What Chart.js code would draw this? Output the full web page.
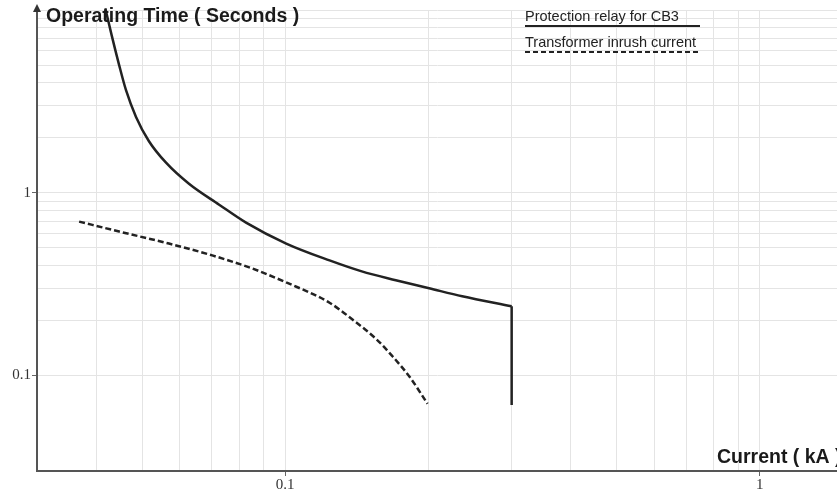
<!DOCTYPE html>
<html lang="en">
<head>
    <meta charset="UTF-8">
    <title>Relay coordination</title>
    <script src="https://cdn.jsdelivr.net/npm/chart.js"></script>
    <style>
        body { margin: 0; background: #fff; }
        .wrap { width: 837px; height: 492px; position: relative; }
    </style>
</head>
<body>
    <div class="wrap">
        <canvas id="tccChart"></canvas>
    </div>
    <script>
        // Protection relay for CB3 (kA, s)
        var relayCurrent = [0.0418, 0.0431, 0.0447, 0.0462, 0.0485, 0.0516, 0.0561, 0.0627, 0.0726, 0.0827, 0.1005, 0.124, 0.145, 0.171, 0.201, 0.236, 0.300];
        var relayTime = [10.2, 7.26, 4.98, 3.64, 2.6, 1.92, 1.46, 1.12, 0.86, 0.686, 0.527, 0.426, 0.371, 0.332, 0.300, 0.271, 0.239];
        // instantaneous step of the relay
        var instantCurrent = [0.3, 0.3];
        var instantTime = [0.239, 0.069];
        // Transformer inrush current
        var inrushCurrent = [0.0368, 0.0447, 0.0569, 0.0702, 0.0852, 0.1005, 0.124, 0.1384, 0.1556, 0.168, 0.183, 0.1995];
        var inrushTime = [0.695, 0.613, 0.527, 0.454, 0.385, 0.323, 0.250, 0.203, 0.158, 0.128, 0.098, 0.070];

        // grid lines and labelled ticks
        var xGrid = [0.03, 0.04, 0.05, 0.06, 0.07, 0.08, 0.09, 0.1, 0.2, 0.3, 0.4, 0.5, 0.6, 0.7, 0.8, 0.9, 1];
        var yGrid = [0.1, 0.2, 0.3, 0.4, 0.5, 0.6, 0.7, 0.8, 0.9, 1, 2, 3, 4, 5, 6, 7, 8, 9, 10];
        var xLabels = [0.1, 1];
        var yLabels = [0.1, 1];

        var legendItems = ['Protection relay for CB3', 'Transformer inrush current'];

        function pts(xs, ys) {
            return xs.map(function (x, i) { return { x: x, y: ys[i] }; });
        }

        var lineColor = '#222';

        var overlay = {
            id: 'overlay',
            afterDraw: function (chart) {
                var ctx = chart.ctx;
                var a = chart.chartArea;
                ctx.save();
                // arrow on the y axis
                ctx.fillStyle = '#333';
                ctx.beginPath();
                ctx.moveTo(a.left, 4);
                ctx.lineTo(a.left - 4, 12);
                ctx.lineTo(a.left + 4, 12);
                ctx.closePath();
                ctx.fill();

                // axis titles
                ctx.fillStyle = '#1a1a1a';
                ctx.font = 'bold 19.5px "Liberation Sans", Arial, sans-serif';
                ctx.textBaseline = 'alphabetic';
                ctx.textAlign = 'left';
                ctx.fillText('Operating Time ( Seconds )', 46, 22);
                ctx.fillText('Current ( kA )', 717, 463);

                // legend
                ctx.font = '14.5px "Liberation Sans", Arial, sans-serif';
                ctx.fillStyle = '#222';
                ctx.fillText(legendItems[0], 525, 21);
                ctx.fillText(legendItems[1], 525, 47);
                ctx.strokeStyle = lineColor;
                ctx.lineWidth = 2;
                ctx.beginPath();
                ctx.moveTo(525, 26);
                ctx.lineTo(700, 26);
                ctx.stroke();
                ctx.setLineDash([5, 3]);
                ctx.beginPath();
                ctx.moveTo(525, 52);
                ctx.lineTo(700, 52);
                ctx.stroke();
                ctx.restore();
            }
        };

        var ctxTcc = document.getElementById('tccChart').getContext('2d');
        var tccChart = new Chart(ctxTcc, {
            type: 'line',
            data: {
                datasets: [{
                    label: legendItems[0],
                    data: pts(relayCurrent, relayTime),
                    borderColor: lineColor,
                    borderWidth: 2.5,
                    pointRadius: 0,
                    cubicInterpolationMode: 'monotone',
                    clip: false
                }, {
                    label: legendItems[0],
                    data: pts(instantCurrent, instantTime),
                    borderColor: lineColor,
                    borderWidth: 2.5,
                    pointRadius: 0,
                    tension: 0
                }, {
                    label: legendItems[1],
                    data: pts(inrushCurrent, inrushTime),
                    borderColor: lineColor,
                    borderWidth: 2.5,
                    borderDash: [6, 3],
                    pointRadius: 0,
                    cubicInterpolationMode: 'monotone'
                }]
            },
            options: {
                responsive: true,
                maintainAspectRatio: false,
                animation: false,
                layout: { padding: { top: 7.5, right: 0, left: 0, bottom: 0 } },
                plugins: {
                    legend: { display: false },
                    tooltip: { enabled: false }
                },
                scales: {
                    x: {
                        type: 'logarithmic',
                        min: 0.03,
                        max: 1.454,
                        afterBuildTicks: function (scale) {
                            scale.ticks = xGrid.map(function (v) { return { value: v }; });
                        },
                        afterFit: function (scale) { scale.height = 21; },
                        grid: {
                            color: '#e4e4e4',
                            tickLength: 5,
                            tickColor: function (c) {
                                return xLabels.indexOf(c.tick.value) >= 0 ? '#666' : 'rgba(0,0,0,0)';
                            }
                        },
                        border: { color: '#555', width: 2 },
                        ticks: {
                            autoSkip: false,
                            maxRotation: 0,
                            padding: 0,
                            color: '#333',
                            font: { family: '"Liberation Serif", serif', size: 15 },
                            callback: function (v) {
                                return xLabels.indexOf(v) >= 0 ? String(v) : '';
                            }
                        }
                    },
                    y: {
                        type: 'logarithmic',
                        min: 0.03,
                        max: 10,
                        afterBuildTicks: function (scale) {
                            scale.ticks = yGrid.map(function (v) { return { value: v }; });
                        },
                        afterFit: function (scale) { scale.width = 37; },
                        grid: {
                            color: '#e4e4e4',
                            tickLength: 5,
                            tickColor: function (c) {
                                return yLabels.indexOf(c.tick.value) >= 0 ? '#666' : 'rgba(0,0,0,0)';
                            }
                        },
                        border: { color: '#555', width: 2 },
                        ticks: {
                            autoSkip: false,
                            padding: 1,
                            color: '#333',
                            font: { family: '"Liberation Serif", serif', size: 15 },
                            callback: function (v) {
                                return yLabels.indexOf(v) >= 0 ? String(v) : '';
                            }
                        }
                    }
                }
            },
            plugins: [overlay]
        });
    </script>
</body>
</html>
